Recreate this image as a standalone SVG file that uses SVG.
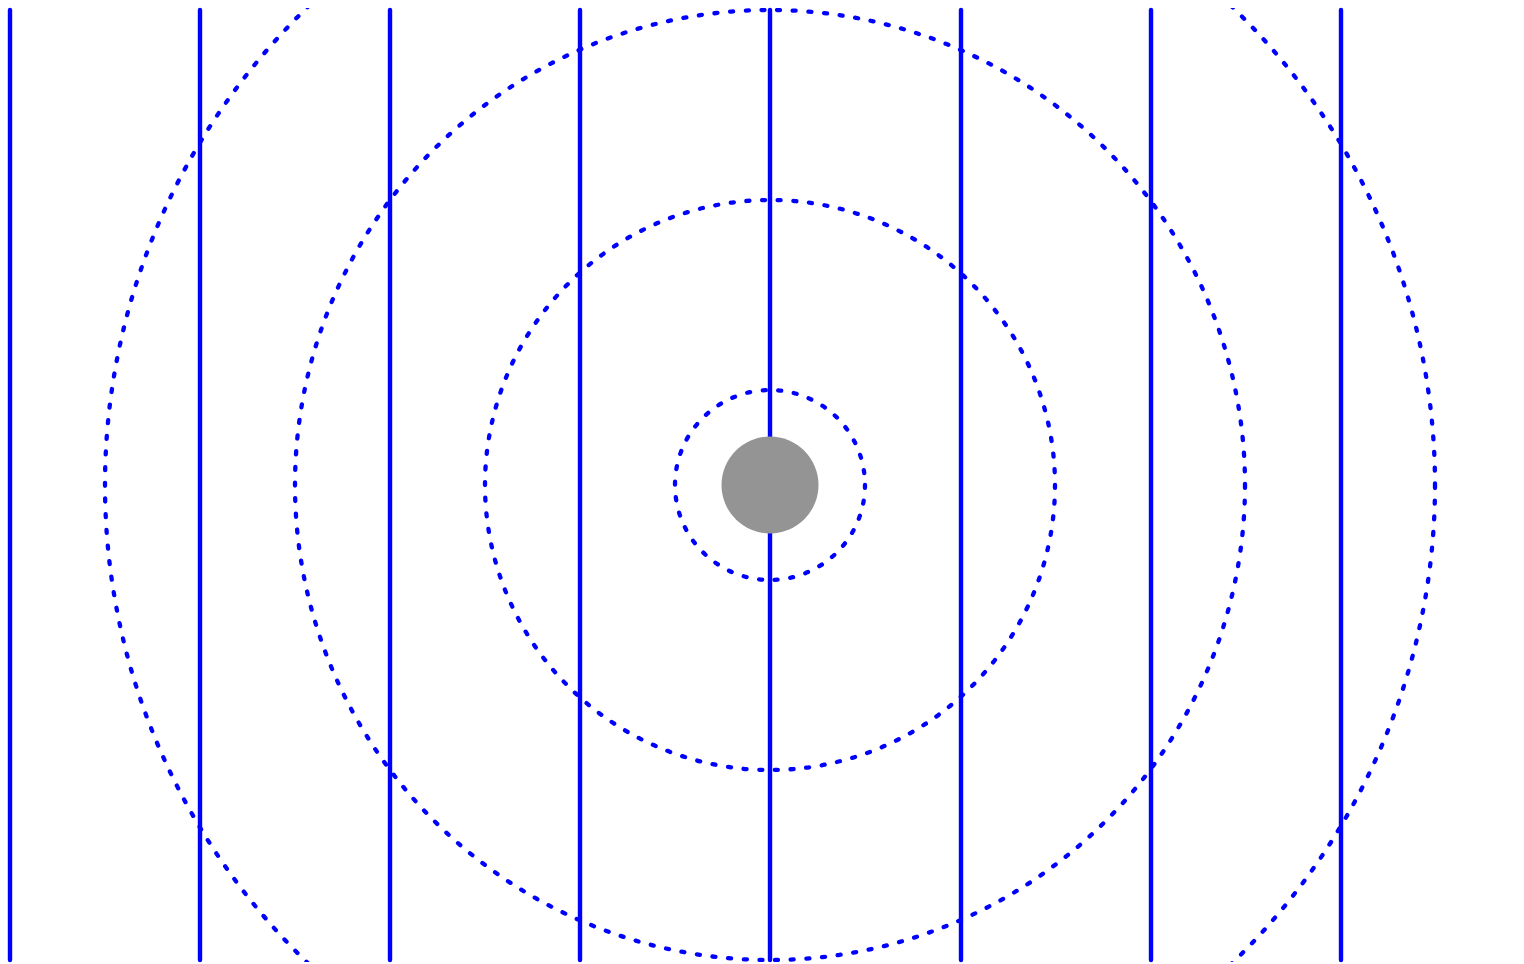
<svg xmlns="http://www.w3.org/2000/svg" width="1524" height="964" viewBox="0 0 1524 964">
<style>
.fl{stroke:#0000ff;stroke-width:4.4;stroke-linecap:round;fill:none}
.eq{stroke:#0000ff;stroke-width:4.3;stroke-linecap:round;stroke-dasharray:3 12.7;fill:none}
</style>
<defs><clipPath id="c"><rect x="0" y="8" width="1524" height="954"/></clipPath></defs>
<rect width="1524" height="964" fill="#fff"/>
<g id="equipotentials" clip-path="url(#c)">
<circle class="eq" cx="770" cy="485" r="95"/>
<circle class="eq" cx="770" cy="485" r="285"/>
<circle class="eq" cx="770" cy="485" r="475"/>
<circle class="eq" cx="770" cy="485" r="665"/>
</g>
<g id="fieldlines">
<line class="fl" x1="10" y1="10" x2="10" y2="960"/>
<line class="fl" x1="200" y1="10" x2="200" y2="960"/>
<line class="fl" x1="390" y1="10" x2="390" y2="960"/>
<line class="fl" x1="580" y1="10" x2="580" y2="960"/>
<line class="fl" x1="770" y1="10" x2="770" y2="960"/>
<line class="fl" x1="961" y1="10" x2="961" y2="960"/>
<line class="fl" x1="1151" y1="10" x2="1151" y2="960"/>
<line class="fl" x1="1341" y1="10" x2="1341" y2="960"/>
</g>
<g id="charge">
<circle cx="770" cy="485" r="48.5" fill="#949494"/>
</g>
</svg>
